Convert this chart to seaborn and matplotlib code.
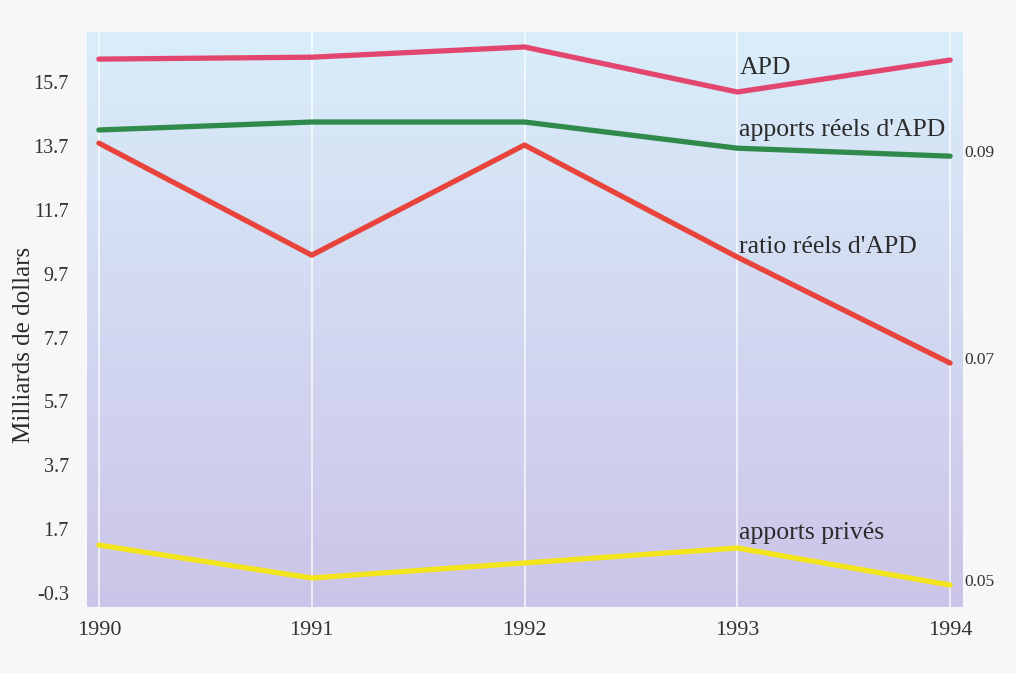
import numpy as np
import pandas as pd
import seaborn as sns
import matplotlib.pyplot as plt

# data (milliards de dollars)
years = [1990, 1991, 1992, 1993, 1994]
apd = [16.42, 16.48, 16.8, 15.39, 16.39]
apports_reels = [14.2, 14.45, 14.45, 13.63, 13.38]
ratio_reels = [13.79, 10.28, 13.73, 10.22, 6.9]
apports_prives = [1.2, 0.17, 0.64, 1.11, -0.05]

series_names = ['APD', "apports réels d'APD", "ratio réels d'APD", 'apports privés']
series_colors = ['#e2466f', '#2f8a4c', '#e9443c', '#f4e41c']
series_label_y = [16.14, 14.2, 10.53, 1.58]
yticks = [-0.3, 1.7, 3.7, 5.7, 7.7, 9.7, 11.7, 13.7, 15.7]
right_labels = {"apports réels d'APD": '0.09', "ratio réels d'APD": '0.07', 'apports privés': '0.05'}

df = pd.DataFrame({'year': years,
                   'APD': apd,
                   "apports réels d'APD": apports_reels,
                   "ratio réels d'APD": ratio_reels,
                   'apports privés': apports_prives})
long_df = df.melt(id_vars='year', var_name='serie', value_name='valeur')

# initialize the plot
sns.set_style('white')
plt.rcParams['font.family'] = ['Liberation Serif', 'DejaVu Serif']
fig = plt.figure(figsize=(10.16, 6.73), dpi=100)
fig.patch.set_facecolor('#f7f7f9')
ax = fig.add_axes([0.0856, 0.098, 0.8613, 0.8545])

# gradient background (light blue -> lavender)
top = np.array([0.85, 0.93, 0.98])
bottom = np.array([0.80, 0.77, 0.91])
t = np.linspace(0, 1, 256)[:, None]
grad = top * (1 - t[..., None]) + bottom * t[..., None]
grad = np.repeat(grad, 2, axis=1)
ax.imshow(grad, extent=[0, 1, 0, 1], transform=ax.transAxes, aspect='auto', zorder=0)

# white vertical grid lines
for yr in years:
    ax.axvline(yr, color='white', linewidth=1.2, alpha=0.8, zorder=1)

sns.lineplot(data=long_df, x='year', y='valeur', hue='serie', hue_order=series_names,
             palette=dict(zip(series_names, series_colors)), linewidth=3.8,
             legend=False, ax=ax, zorder=3)

# series labels
for name, ly in zip(series_names, series_label_y):
    ax.text(1993.01, ly, name, fontsize=18.5, color='#2b2b2b', va='center', ha='left', zorder=4)

# right-hand ratio labels
for name, txt in right_labels.items():
    ax.text(1994.065, df[name].iloc[-1] + 0.1, txt, fontsize=12.5, color='#333333',
            va='center', ha='left', clip_on=False)

# style the plot
ax.set_xlim(1989.944, 1994.056)
ax.set_ylim(-0.74, 17.27)
ax.set_xticks(years)
ax.set_xticklabels([str(y) for y in years])
ax.set_yticks(yticks)
ax.set_yticklabels([f'{v:.1f}' for v in yticks])
ax.tick_params(axis='x', labelsize=16, length=0, pad=10, colors='#333333')
ax.tick_params(axis='y', labelsize=14.5, length=0, pad=13, colors='#333333')
for s in ax.spines.values():
    s.set_visible(False)
ax.set_xlabel('')
ax.set_ylabel('Milliards de dollars', size=18, color='#2b2b2b')
ax.yaxis.set_label_coords(-0.059, 0.456)

plt.savefig('out.png', dpi=100, facecolor=fig.get_facecolor())
